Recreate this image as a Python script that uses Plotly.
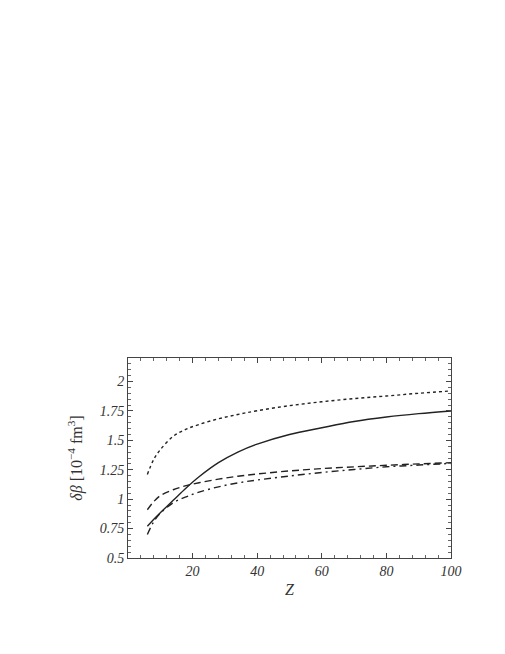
import plotly.graph_objects as go

Z = [6, 8, 10, 14, 18, 22, 28, 34, 40, 50, 60, 70, 80, 90, 100]
dotted = [1.21, 1.34, 1.42, 1.535, 1.595, 1.635, 1.683, 1.72, 1.752, 1.795, 1.828, 1.855, 1.877, 1.90, 1.92]
solid = [0.77, 0.83, 0.885, 0.99, 1.095, 1.19, 1.31, 1.40, 1.468, 1.55, 1.607, 1.66, 1.698, 1.727, 1.75]
dashed = [0.91, 0.98, 1.03, 1.08, 1.115, 1.14, 1.17, 1.195, 1.214, 1.24, 1.26, 1.275, 1.288, 1.30, 1.31]
dashdot = [0.70, 0.81, 0.88, 0.97, 1.02, 1.06, 1.105, 1.138, 1.163, 1.197, 1.227, 1.252, 1.275, 1.29, 1.304]

x_ticks = [20, 40, 60, 80, 100]
y_ticks = [0.5, 0.75, 1, 1.25, 1.5, 1.75, 2]
y_labels = ["0.5", "0.75", "1", "1.25", "1.5", "1.75", "2"]

col = "#222222"
fig = go.Figure()
for ys, dash in [(dotted, "dot"), (solid, "solid"), (dashed, "7px,4px"), (dashdot, "7px,4px,2px,4px")]:
    fig.add_trace(go.Scatter(x=Z, y=ys, mode="lines",
                             line=dict(color=col, width=1.4, dash=dash, shape="spline", smoothing=1.0),
                             showlegend=False))

tickfont = dict(family="Liberation Serif", size=14, color="#333", style="italic")
fig.update_layout(
    width=505, height=654,
    margin=dict(l=120, r=62, t=350, b=104),
    paper_bgcolor="white", plot_bgcolor="white",
    font=dict(family="Liberation Serif", color="#333"),
)
fig.update_xaxes(range=[0, 100], tickvals=x_ticks, tickfont=tickfont,
                 ticks="inside", ticklen=5, tickcolor="#444", mirror="allticks",
                 showline=True, linecolor="#444", linewidth=1, showgrid=False, zeroline=False,
                 minor=dict(dtick=4, tick0=0, ticks="inside", ticklen=3, tickcolor="#666", showgrid=False),
                 title=dict(text="<i>Z</i>", font=dict(family="Liberation Serif", size=16, color="#333"), standoff=6))
fig.update_yaxes(range=[0.5, 2.2], tickvals=y_ticks, ticktext=y_labels, tickfont=tickfont,
                 ticks="inside", ticklen=5, tickcolor="#444", mirror="allticks",
                 showline=True, linecolor="#444", linewidth=1,
                 showgrid=False, zeroline=False,
                 minor=dict(dtick=0.05, tick0=0.5, ticks="inside", ticklen=3, tickcolor="#666", showgrid=False),
                 title=dict(text="<i>δβ</i> [10<sup>−4</sup> fm<sup>3</sup>]",
                            font=dict(family="Liberation Serif", size=16, color="#333"), standoff=13))

fig.write_html("out.html")
